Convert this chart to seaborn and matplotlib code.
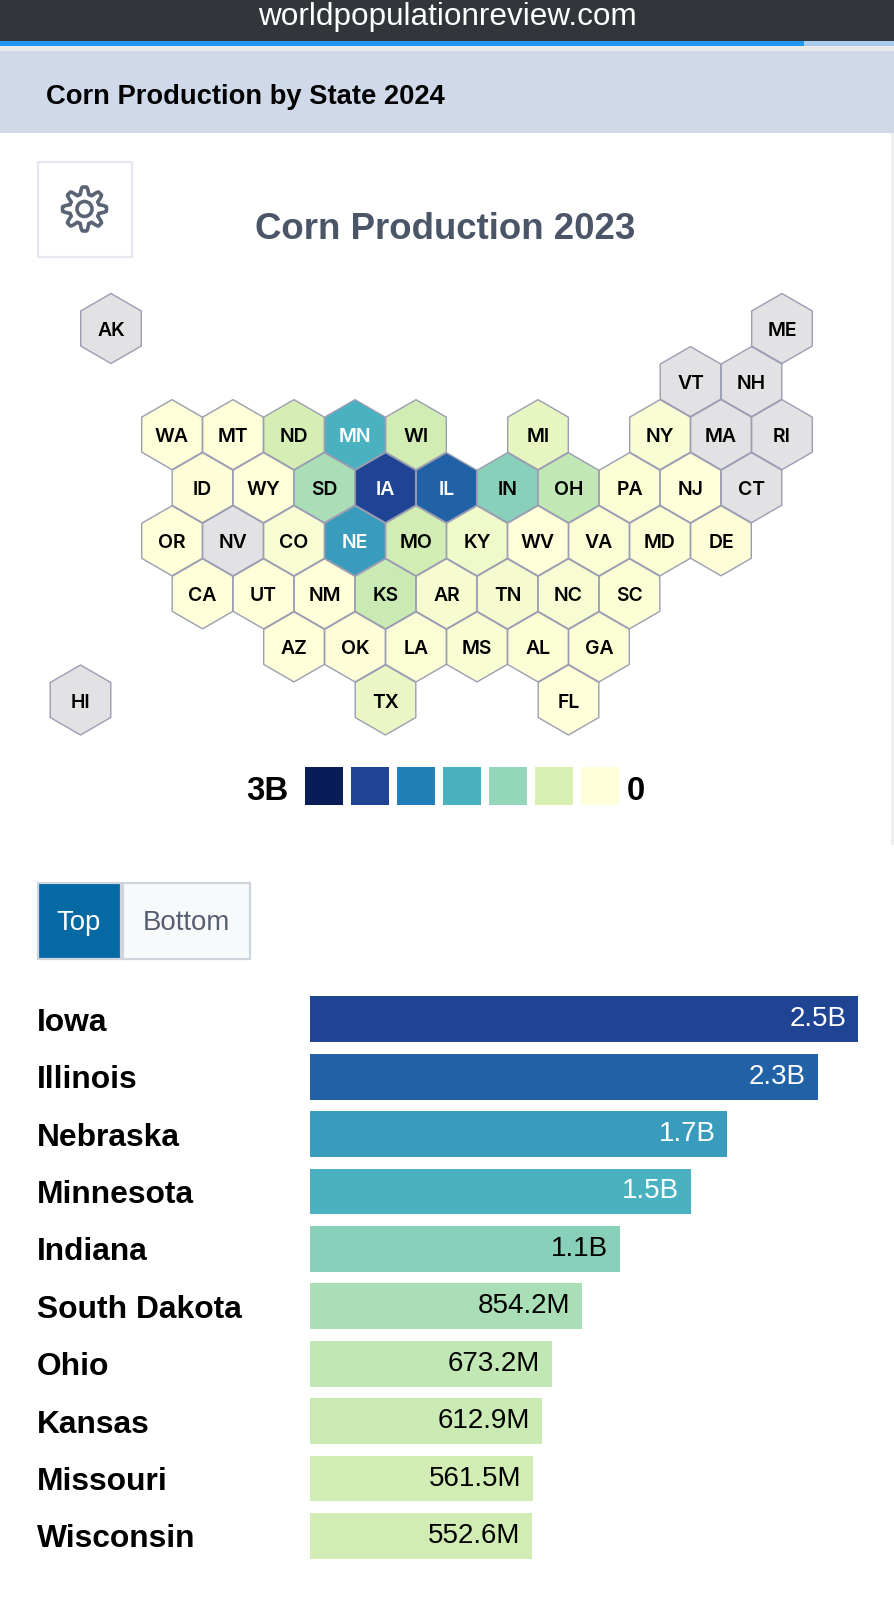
#corn production page, hex map and top 10 bars
from matplotlib import pyplot as plt
from matplotlib.patches import Rectangle, Circle, Polygon
import pandas as pd
import numpy as np
import seaborn as sns

#bars, in millions
top_states = ['Iowa', 'Illinois', 'Nebraska', 'Minnesota', 'Indiana',
              'South Dakota', 'Ohio', 'Kansas', 'Missouri', 'Wisconsin']
top_values = [2500, 2260, 1720, 1500, 1080, 854.2, 673.2, 612.9, 561.5, 552.6]
top_labels = ['2.5B', '2.3B', '1.7B', '1.5B', '1.1B',
              '854.2M', '673.2M', '612.9M', '561.5M', '552.6M']

#hex map, col is in half cells, row in whole rows
hex_states = ['AK', 'ME', 'VT', 'NH',
              'WA', 'MT', 'ND', 'MN', 'WI', 'MI', 'NY', 'MA', 'RI',
              'ID', 'WY', 'SD', 'IA', 'IL', 'IN', 'OH', 'PA', 'NJ', 'CT',
              'OR', 'NV', 'CO', 'NE', 'MO', 'KY', 'WV', 'VA', 'MD', 'DE',
              'CA', 'UT', 'NM', 'KS', 'AR', 'TN', 'NC', 'SC',
              'AZ', 'OK', 'LA', 'MS', 'AL', 'GA',
              'HI', 'TX', 'FL']
hex_cols = [1, 23, 20, 22,
            3, 5, 7, 9, 11, 15, 19, 21, 23,
            4, 6, 8, 10, 12, 14, 16, 18, 20, 22,
            3, 5, 7, 9, 11, 13, 15, 17, 19, 21,
            4, 6, 8, 10, 12, 14, 16, 18,
            7, 9, 11, 13, 15, 17,
            0, 10, 16]
hex_rows = [0, 0, 1, 1,
            2, 2, 2, 2, 2, 2, 2, 2, 2,
            3, 3, 3, 3, 3, 3, 3, 3, 3, 3,
            4, 4, 4, 4, 4, 4, 4, 4, 4, 4,
            5, 5, 5, 5, 5, 5, 5, 5,
            6, 6, 6, 6, 6, 6,
            7, 7, 7]
#millions, nan is a grey cell
hex_values = [np.nan, np.nan, np.nan, np.nan,
              20, 12, 530, 1500, 552.6, 320, 90, np.nan, np.nan,
              30, 12, 854.2, 2500, 2260, 1080, 673.2, 70, 10, np.nan,
              10, np.nan, 90, 1720, 561.5, 220, 8, 50, 60, 25,
              20, 10, 10, 612.9, 120, 130, 100, 40,
              10, 30, 70, 90, 40, 50,
              np.nan, 280, 10]

legend_values = [3000, 2500, 2000, 1500, 1000, 500, 0]
legend_colors = ['#ffffd9', '#d9f0b3', '#94d6b9', '#4ab2c1', '#2280b8', '#204495', '#081d58']

W, H = 894, 1599
SCALE_MAX = 3000
NO_DATA = '#e2e2e5'
HEX_EDGE = '#9b9db2'
#the site's bars do not start at zero, a zero bar would still be this long
BAR_FLOOR = 772
PX_PER_M = 0.1675

sns.set_theme(style='white')
plt.rcParams['font.family'] = ['Liberation Sans', 'DejaVu Sans']

cmap = sns.blend_palette(legend_colors, as_cmap=True)

def scale_color(v):
    if np.isnan(v):
        return NO_DATA
    return cmap(v / SCALE_MAX)

def px_axes(fig, left, top, width, height):
    return fig.add_axes([left / W, 1 - (top + height) / H, width / W, height / H])

fig = plt.figure(figsize=(W / 100, H / 100), dpi=100, facecolor='white')

#page furniture in pixel coords
page = fig.add_axes([0, 0, 1, 1], zorder=0)
page.set_xlim(0, W)
page.set_ylim(H, 0)
page.axis('off')

page.add_patch(Rectangle((0, 0), W, 41, fc='#32363a', ec='none'))
page.add_patch(Rectangle((0, 41), 804, 5, fc='#2196f3', ec='none'))
page.add_patch(Rectangle((804, 41), 90, 5, fc='#a6cdef', ec='none'))
page.add_patch(Rectangle((0, 46), W, 5, fc='#e9e9e9', ec='none'))
page.add_patch(Rectangle((0, 51), W, 82, fc='#d0d9ea', ec='none'))
page.add_patch(Rectangle((891, 133), 3, 712, fc='#eeeeee', ec='none'))
page.text(447, 17, 'worldpopulationreview.com', color='white', fontsize=22.7, ha='center', va='center')
page.text(46, 96.5, 'Corn Production by State 2024', color='black', fontsize=19.7, fontweight='bold', va='center')
page.text(445.5, 229.5, 'Corn Production 2023', color='#4a5568', fontsize=26.4, fontweight='bold', ha='center', va='center')

#settings button
page.add_patch(Rectangle((38, 162), 94, 95, fc='white', ec='#e6e8ef', lw=1.6))
theta = np.linspace(0, 2 * np.pi, 192, endpoint=False)
radius = 18.5 + 3.5 * np.clip(1.5 * np.cos(8 * theta), -1, 1)
page.add_patch(Polygon(np.c_[84.5 + radius * np.sin(theta), 209 + radius * np.cos(theta)],
                       closed=True, fc='none', ec='#5a6474', lw=2.6, joinstyle='round'))
page.add_patch(Circle((84.5, 209), 7.5, fc='none', ec='#5a6474', lw=2.6))

#top / bottom buttons
page.add_patch(Rectangle((38, 883), 83, 76, fc='#0569a3', ec='#d0d5dd', lw=1.6))
page.add_patch(Rectangle((123, 883), 127, 76, fc='#f8f9fb', ec='#d0d5dd', lw=1.6))
page.text(79, 922.5, 'Top', color='white', fontsize=19.8, ha='center', va='center')
page.text(186, 922.5, 'Bottom', color='#565f70', fontsize=19.9, ha='center', va='center')

#hex map
hex_df = pd.DataFrame({'state': hex_states, 'col': hex_cols, 'row': hex_rows, 'value': hex_values})
hex_ax = fig.add_axes([0, 0, 1, 1], zorder=1)
hex_ax.patch.set_alpha(0)
sns.scatterplot(data=hex_df, x='col', y='row', hue='state',
                palette={s: scale_color(v) for s, v in zip(hex_states, hex_values)},
                marker='h', s=2540, edgecolor=HEX_EDGE, linewidth=1, legend=False, ax=hex_ax)
hex_ax.set_xlim(-80.5 / 30.5, (W - 80.5) / 30.5)
hex_ax.set_ylim((H - 328.5) / 53.07, -328.5 / 53.07)
hex_ax.axis('off')
for s, c, r, v in zip(hex_states, hex_cols, hex_rows, hex_values):
    dark = not np.isnan(v) and v >= 1500
    hex_ax.annotate(s, (c, r), xytext=(0, -0.4), textcoords='offset points',
                    color='white' if dark else 'black', fontsize=14, fontweight=600,
                    family=['Inter', 'DejaVu Sans'], ha='center', va='center_baseline')

#colour legend
leg_ax = px_axes(fig, 301.4, 762.5, 322, 46)
sns.heatmap(np.array([legend_values]), cmap=cmap, vmin=0, vmax=SCALE_MAX, cbar=False,
            linewidths=5.5, linecolor='white', xticklabels=False, yticklabels=False, ax=leg_ax)
page.text(246, 791, '3B', color='black', fontsize=23.8, fontweight='bold', va='center')
page.text(627, 791, '0', color='black', fontsize=23.8, fontweight='bold', va='center')

#top 10 bars
bar_df = pd.DataFrame({'state': top_states, 'value': top_values})
bar_df['length'] = bar_df['value'] + BAR_FLOOR
bar_ax = px_axes(fig, 310, 990.6, W - 310, 574)
sns.barplot(data=bar_df, x='length', y='state', hue='state', legend=False, saturation=1,
            palette=[scale_color(v) for v in top_values], width=0.8, linewidth=0, ax=bar_ax)
bar_ax.set_xlim(0, (W - 310) / PX_PER_M)
bar_ax.set_xlabel('')
bar_ax.set_ylabel('')
bar_ax.set_xticks([])
sns.despine(ax=bar_ax, left=True, bottom=True)
bar_ax.patch.set_alpha(0)
bar_ax.tick_params(axis='y', length=0, pad=196.5)
for tick in bar_ax.get_yticklabels():
    tick.set_ha('left')
    tick.set_fontsize(22.9)
    tick.set_fontweight('bold')
    tick.set_color('black')
for i, (v, lab) in enumerate(zip(bar_df['length'], top_labels)):
    bar_ax.annotate(lab, (v, i), xytext=(-8.5, 0), textcoords='offset points',
                    color='white' if top_values[i] >= 1500 else 'black',
                    fontsize=20, ha='right', va='center')

fig.savefig('out.png', dpi=100, facecolor='white')
